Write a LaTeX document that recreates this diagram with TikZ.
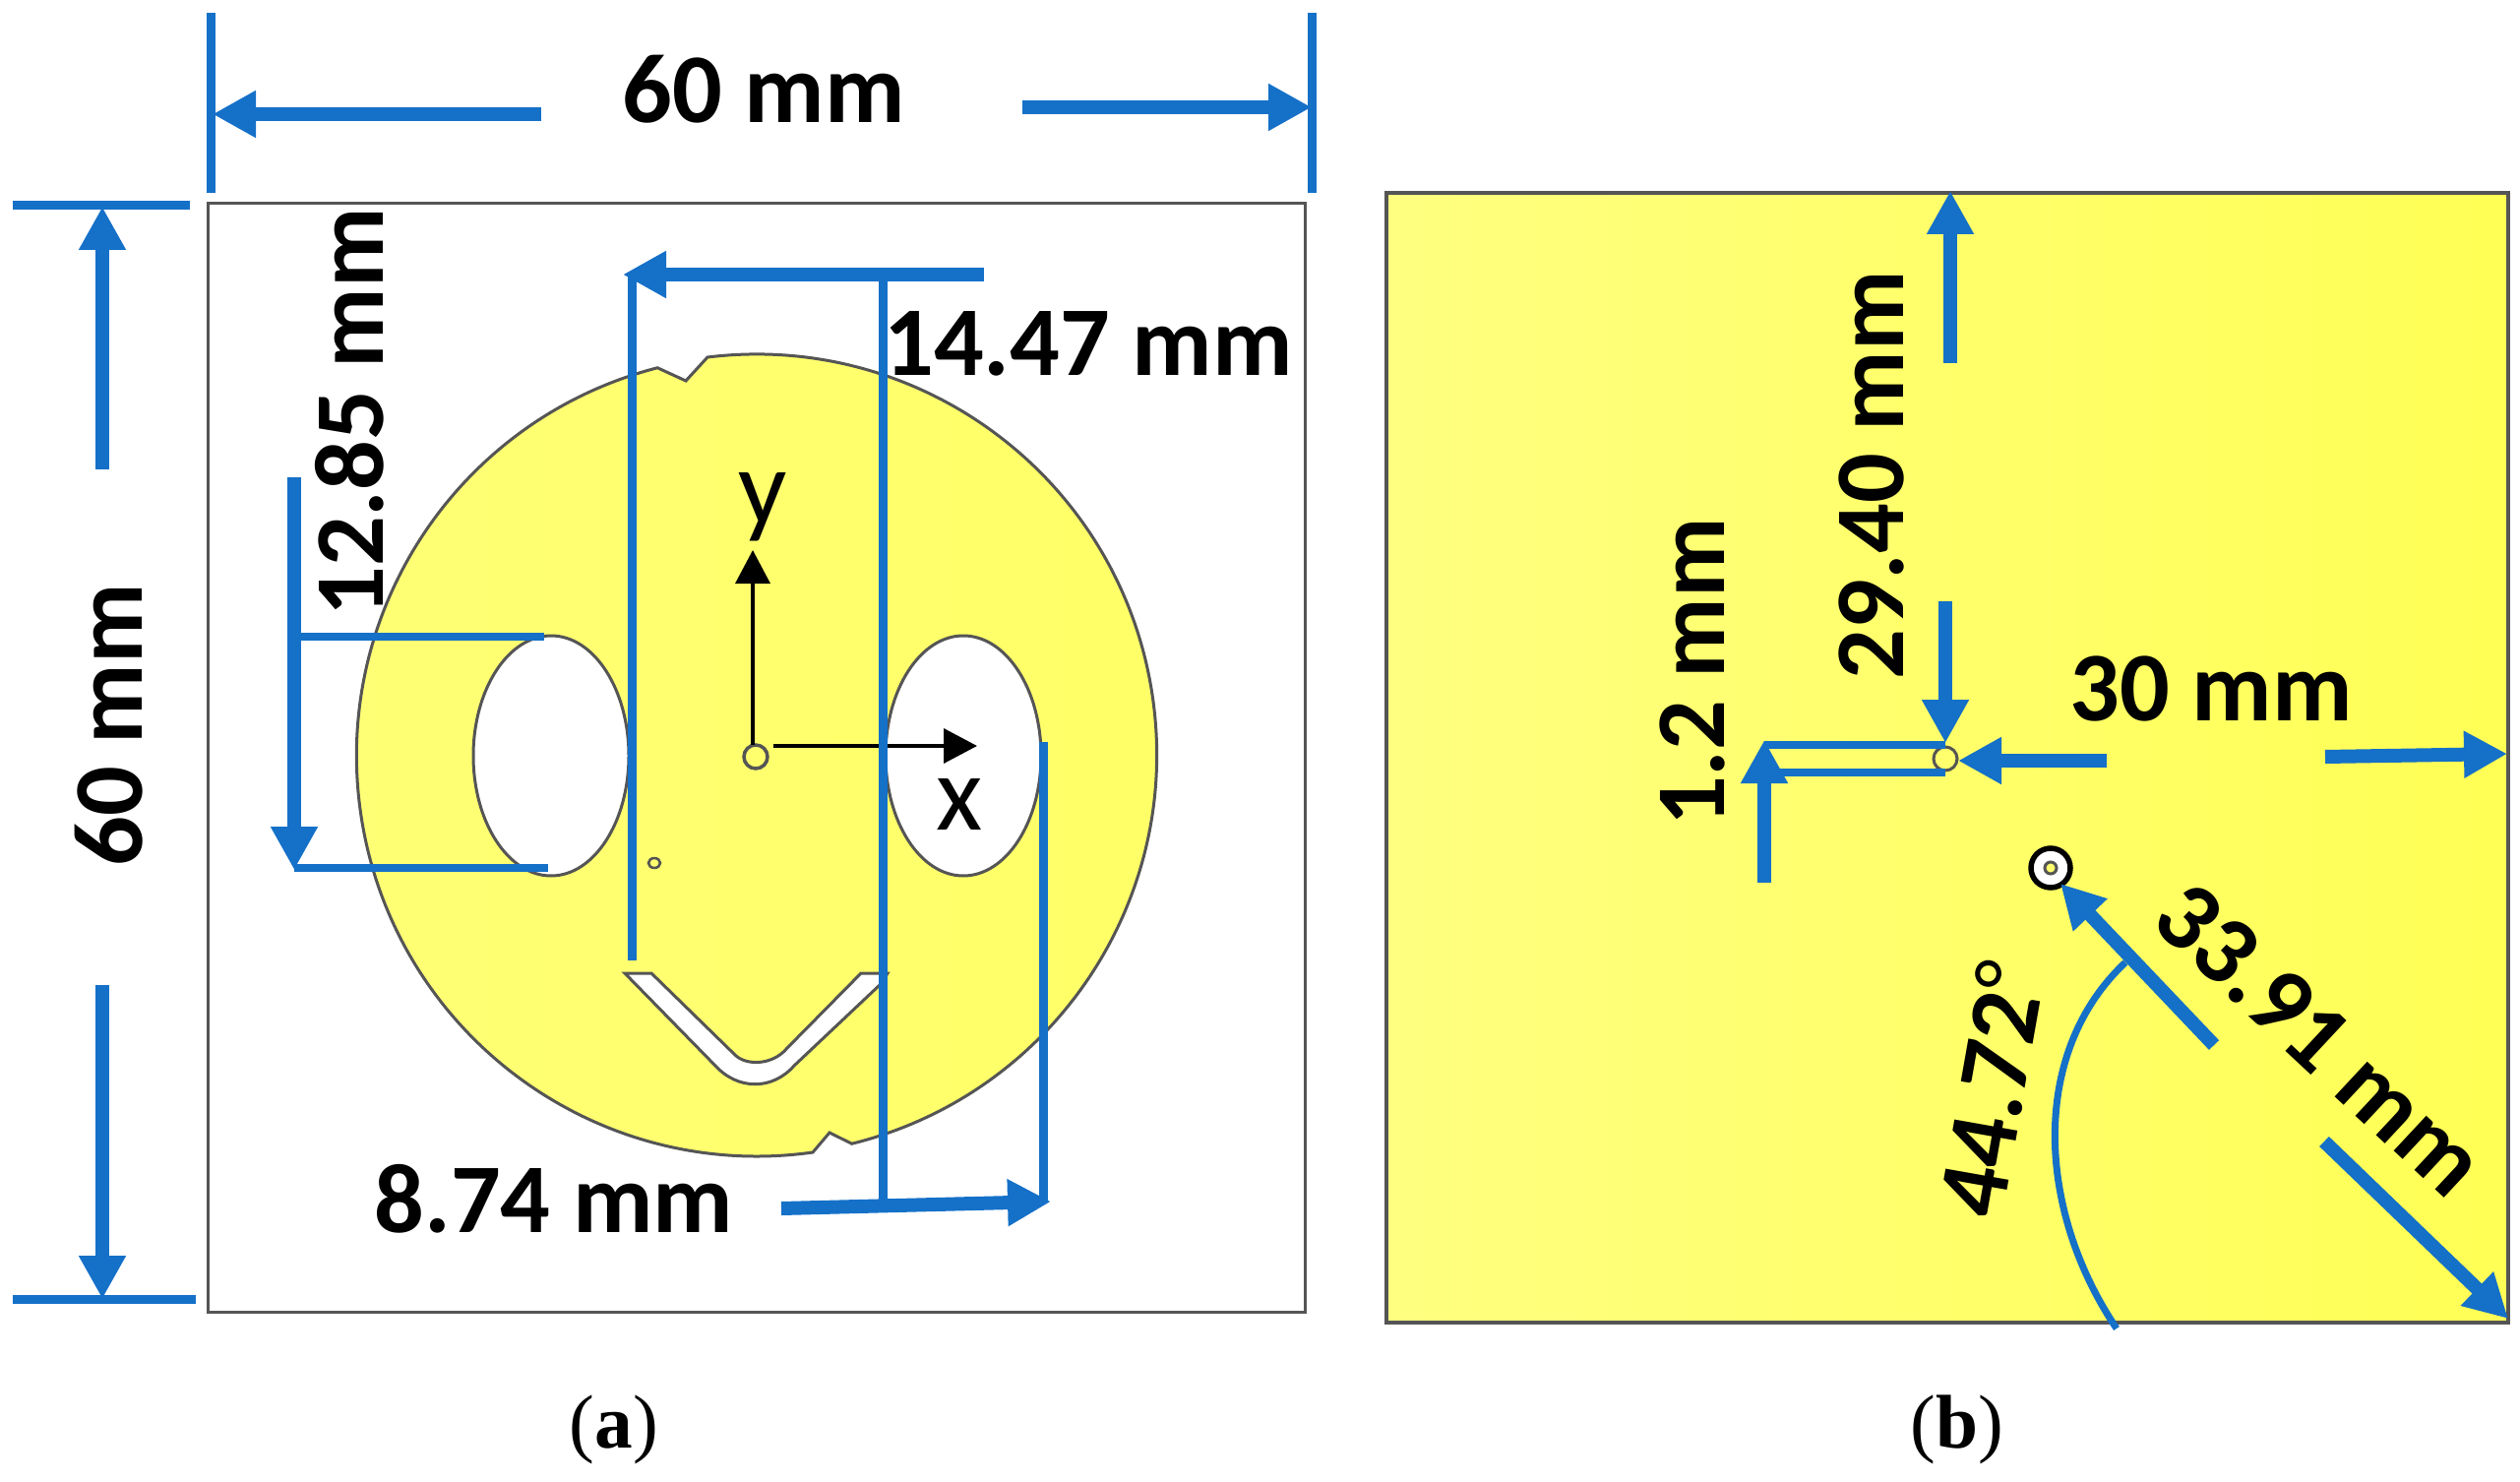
\documentclass[tikz,border=0pt]{standalone}
\usepackage{fontspec}
\setmainfont{Carlito}
\newfontfamily\captionfont{Liberation Serif}
\usetikzlibrary{arrows.meta}
\definecolor{dimblue}{HTML}{1570C8}
\definecolor{edgegray}{HTML}{555555}
\definecolor{patchpale}{HTML}{FFFF80}
\definecolor{patchmid}{HTML}{FFFF6E}
\definecolor{patchdeep}{HTML}{FFFF55}
\tikzset{
	dimarrow/.style={line width=1.4mm, draw=dimblue, -{Triangle[length=4.4mm, width=4.5mm]}},
	dimline/.style={line width=0.9mm, draw=dimblue},
	thinline/.style={line width=0.8mm, draw=dimblue},
	axisarrow/.style={line width=0.35mm, draw=black, -{Triangle[length=3.4mm, width=3.5mm]}},
	dimlabel/.style={font=\fontsize{28.5}{32}\selectfont\bfseries, text=black, inner sep=0},
	axislabel/.style={font=\fontsize{31}{36}\selectfont, text=black, inner sep=0},
	caplabel/.style={font=\fontsize{22}{26}\selectfont\captionfont, text=black, inner sep=0},
	hole/.style={fill=white, draw=edgegray, line width=0.3mm},
}
\begin{document}
\begin{tikzpicture}[x=0.1mm, y=-0.1mm]
	\useasboundingbox (0,0) rectangle (2561,1506);
	% left panel
	\draw[line width=0.3mm, draw=edgegray] (211,207) rectangle (1326,1333);
	\shadedraw[left color=patchpale!40!patchmid, right color=patchmid!70!patchdeep, draw=edgegray, line width=0.3mm]
		(719,363) arc[start angle=-97, end angle=76.2, radius=407] -- (843,1151) -- (826,1171) arc[start angle=82, end angle=255.6, radius=407] -- (697,387) -- cycle;
	\foreach \holex in {560,979}{
		\draw[hole] (\holex,768) ellipse[x radius=79, y radius=122];
	};
	\draw[hole] (635,989) -- (662,989) -- (747,1072) .. controls (758,1083) and (785,1083) .. (800,1065) -- (875,989) -- (902,989) -- (895,1000) -- (807,1083) .. controls (785,1108) and (750,1108) .. (727,1083) -- cycle;
	\draw[line width=0.25mm, draw=edgegray] (665,877) ellipse[x radius=6, y radius=5];
	\draw[line width=0.35mm, draw=edgegray] (768,769) circle[radius=12];
	% axes
	\coordinate (yaxis) at (765,757);
	\coordinate (ytip) at (765,559);
	\coordinate (xaxis) at (786,758);
	\coordinate (xtip) at (993,758);
	\draw[axisarrow] (yaxis) to (ytip);
	\draw[axisarrow] (xaxis) to (xtip);
	\node[axislabel] (ylab) at (775,515) {y};
	\node[axislabel] (xlab) at (975,817) {x};
	% dimension points
	\coordinate (wl) at (550,116);
	\coordinate (wlt) at (216,116);
	\coordinate (wr) at (1039,109);
	\coordinate (wrt) at (1333,109);
	\coordinate (hu) at (104,477);
	\coordinate (hut) at (104,210);
	\coordinate (hd) at (104,1001);
	\coordinate (hdt) at (104,1320);
	\coordinate (ga) at (1000,279);
	\coordinate (gat) at (633,279);
	\coordinate (gb) at (794,1228);
	\coordinate (gbt) at (1068,1221);
	\coordinate (gc) at (299,485);
	\coordinate (gct) at (299,884);
	\coordinate (pa) at (1982,369);
	\coordinate (pat) at (1982,194);
	\coordinate (pb) at (1977,611);
	\coordinate (pbt) at (1977,755);
	\coordinate (pc) at (2141,773);
	\coordinate (pct) at (1990,773);
	\coordinate (pd) at (2363,769);
	\coordinate (pdt) at (2548,766);
	\coordinate (pe) at (1793,897);
	\coordinate (pet) at (1793,752);
	\coordinate (pf) at (2250,1062);
	\coordinate (pft) at (2094,898);
	\coordinate (pg) at (2362,1160);
	\coordinate (pgt) at (2549,1340);
	% right panel
	\shadedraw[left color=patchpale, middle color=patchmid, right color=patchdeep, draw=edgegray, line width=0.35mm] (1409,196) rectangle (2549,1344);
	\draw[line width=0.3mm, draw=edgegray, fill=patchmid] (1977,771) circle[radius=12];
	\draw[line width=0.55mm, draw=black, fill=white] (2084,882) circle[radius=20];
	\draw[line width=0.3mm, draw=edgegray, fill=patchmid] (2084,882) circle[radius=6];
	% extension lines
	\foreach \lstart/\lstop in {214/13,1333/13}{
		\draw[dimline] (\lstart,\lstop) -- (\lstart,196);
	};
	\foreach \lstop/\lstart in {193/209,199/1320}{
		\draw[dimline] (13,\lstart) -- (\lstop,\lstart);
	};
	\draw[thinline] (299,647) -- (553,647);
	\draw[thinline] (299,882) -- (557,882);
	\draw[dimline] (642,279) -- (642,976);
	\draw[dimline] (897,279) -- (897,1226);
	\draw[dimline] (1060,754) -- (1060,1221);
	\draw[thinline] (1793,757) -- (1977,757);
	\draw[thinline] (1793,785) -- (1977,785);
	\draw[line width=0.7mm, draw=dimblue] (2151,1350) .. controls (2070,1230) and (2062,1070) .. (2160,978);
	% arrows
	\foreach \start/\stop in {wl/wlt,wr/wrt,hu/hut,hd/hdt,ga/gat,gb/gbt,gc/gct,pa/pat,pb/pbt,pc/pct,pd/pdt,pe/pet,pf/pft,pg/pgt}{
		\draw[dimarrow] (\start) to (\stop);
	};
	% labels
	\node[dimlabel] (wlab) at (776,91) {60 mm};
	\node[dimlabel, rotate=90] (hlab) at (111,737) {60 mm};
	\node[dimlabel, rotate=90] (glab) at (355,419) {12.85 mm};
	\node[dimlabel] (alab) at (1106,349) {14.47 mm};
	\node[dimlabel] (blab) at (563,1218) {8.74 mm};
	\node[dimlabel, rotate=90] (plab) at (1902,483) {29.40 mm};
	\node[dimlabel, rotate=90] (qlab) at (1720,683) {1.2 mm};
	\node[dimlabel] (rlab) at (2247,700) {30 mm};
	\node[dimlabel, rotate=-43] (slab) at (2358,1056) {33.91 mm};
	\node[dimlabel, rotate=80] (tlab) at (2023,1107) {44.72\raisebox{0.1em}{\fontsize{25}{28}\selectfont\mdseries °}};
	\node[caplabel] (capa) at (624,1453) {(\textbf{a})};
	\node[caplabel] (capb) at (1989,1453) {(\textbf{b})};
\end{tikzpicture}
\end{document}
